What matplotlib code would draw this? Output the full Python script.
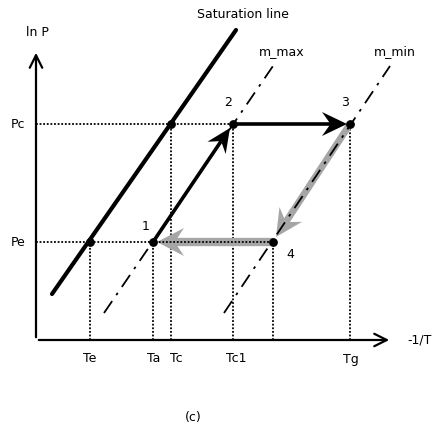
import numpy as np
import matplotlib.pyplot as plt
from matplotlib.patches import Polygon

# schematic Duhring chart values (x = -1/T, y = ln P), origin at axes crossing
Te, Ta, Tc, Tc1, T4, Tg = 54, 117, 135, 197, 237, 314
Pe, Pc = 98, 216
t_labels = ['Te', 'Ta', 'Tc', 'Tc1', 'Tg']
t_label_x = [Te, Ta + 1, Tc + 5, Tc1 + 3, Tg + 1]
p_labels = ['Pe', 'Pc']

sat_x = [16, 200]
sat_y = [46, 310]
mmax_x = [68, 237]
mmax_y = [27, 274]
mmin_x = [188, 354]
mmin_y = [27, 274]

pts_x = [Ta, Tc1, Tg, T4]
pts_y = [Pe, Pc, Pc, Pe]


def stealth(ax, start, tip, L, W, color, lw, z=3):
    # shaft plus notched arrow head (data units == pixels here)
    s = np.array(start, float)
    t = np.array(tip, float)
    d = (t - s) / np.linalg.norm(t - s)
    n = np.array([-d[1], d[0]])
    notch = t - 0.66 * L * d
    ax.plot([s[0], notch[0]], [s[1], notch[1]], color=color, lw=lw, solid_capstyle='butt', zorder=z)
    head = [t, t - L * d + W / 2 * n, notch, t - L * d - W / 2 * n]
    ax.add_patch(Polygon(head, closed=True, color=color, lw=0, zorder=z))


fig = plt.figure(figsize=(4.36, 4.29), dpi=100)
ax = fig.add_axes([0, 0, 1, 1])
ax.set_xlim(-36, 400)
ax.set_ylim(-89, 340)
ax.axis('off')
fs = 9

# axes with arrows
ax.annotate('', xy=(356, 0), xytext=(0, 0),
            arrowprops=dict(arrowstyle='->,head_length=0.9,head_width=0.45', lw=1.6, color='black'))
ax.annotate('', xy=(0, 290), xytext=(0, 0),
            arrowprops=dict(arrowstyle='->,head_length=0.9,head_width=0.45', lw=1.6, color='black'))
ax.text(1, 308, 'ln P', fontsize=fs, ha='center', va='center')
ax.text(384, 0, '-1/T', fontsize=fs, ha='center', va='center')

# dotted guide lines
dot = dict(color='black', lw=1.3, ls=(0, (1, 1)))
ax.plot([0, Tc1], [Pc, Pc], **dot)
ax.plot([0, T4], [Pe, Pe], zorder=4, **dot)
for x, y in [(Te, Pe), (Ta, Pe), (Tc, Pc), (Tc1, Pc), (T4, Pe), (Tg, Pc)]:
    ax.plot([x, x], [0, y], **dot)

# saturation line and concentration lines
ax.plot(sat_x, sat_y, color='black', lw=3, solid_capstyle='round')
dashdot = dict(color='black', lw=1.3, ls=(0, (8, 4, 1.5, 4)))
ax.plot(mmax_x, mmax_y, **dashdot)
ax.plot(mmin_x, mmin_y, zorder=4, **dashdot)

# cycle arrows
gray = '#a6a6a6'
stealth(ax, (Tg, Pc), (T4 + 3, Pe + 5), 27, 27, gray, 5)
stealth(ax, (T4, Pe), (Ta + 4, Pe), 27, 28, gray, 6)
stealth(ax, (Ta, Pe), (Tc1 - 3, Pc - 4), 24, 22, 'black', 2.6, z=5)
stealth(ax, (Tc1, Pc), (Tg - 3, Pc), 25, 24, 'black', 2.6, z=5)

# state points
ax.scatter([Te, Tc] + pts_x, [Pe, Pc] + pts_y, s=28, color='black', zorder=6)

# labels
for lab, x in zip(t_labels, t_label_x):
    ax.text(x, -19, lab, fontsize=fs, ha='center', va='center')
for lab, y in zip(p_labels, [Pe, Pc]):
    ax.text(-18, y, lab, fontsize=fs, ha='center', va='center')
for lab, (dx, dy) in zip(['1', '2', '3', '4'], [(-7, 16), (-5, 21), (-5, 21), (17, -13)]):
    i = int(lab) - 1
    ax.text(pts_x[i] + dx, pts_y[i] + dy, lab, fontsize=fs, ha='center', va='center')
ax.text(207, 326, 'Saturation line', fontsize=fs, ha='center', va='center')
ax.text(246, 288, 'm_max', fontsize=fs, ha='center', va='center')
ax.text(359, 288, 'm_min', fontsize=fs, ha='center', va='center')
ax.text(157, -77, '(c)', fontsize=fs, ha='center', va='center')

fig.savefig('out.png', dpi=100)
